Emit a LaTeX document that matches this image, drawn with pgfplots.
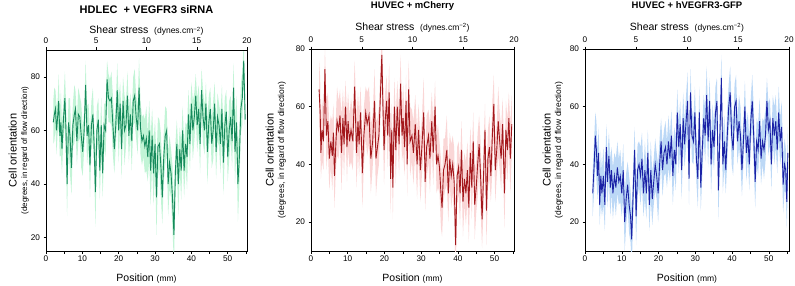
\documentclass[border=0pt]{standalone}
\usepackage{fontspec}
\setmainfont{Liberation Sans}
\usepackage{pgfplots}
\pgfplotsset{compat=1.18}
\usepackage{pgfplotstable}
\usepgfplotslibrary{fillbetween}

\definecolor{lineA}{HTML}{168A5C}
\definecolor{bandA}{HTML}{C2F4D6}
\definecolor{lineB}{HTML}{A3181C}
\definecolor{bandB}{HTML}{FAD6D6}
\definecolor{lineC}{HTML}{1B22A6}
\definecolor{bandC}{HTML}{BCD8F6}

\pgfplotstableread{
x m s
2.0 63 8
2.3 66 10
2.6 68 7
2.9 60 9
3.2 65 6
3.5 71 10
3.8 58 8
4.1 63 12
4.4 53 9
4.8 64 7
5.2 72 10
5.5 60 11
5.8 40 12
6.2 63 9
6.6 58 14
7.0 46 10
7.4 62 8
7.8 66 11
8.1 68 7
8.5 56 9
8.9 66 10
9.3 65 8
9.7 58 12
10.1 52 9
10.5 60 7
10.9 77 9
11.3 58 11
11.7 62 8
12.1 47 12
12.5 62 9
12.9 66 10
13.2 56 8
13.6 37 13
14.0 60 9
14.4 64 8
14.8 45 11
15.2 62 10
15.6 44 9
16.0 62 8
16.4 60 10
16.8 79 7
17.2 72 9
17.6 71 8
18.0 72 10
18.4 62 11
18.8 53 9
19.2 62 8
19.6 75 10
20.0 60 12
20.4 70 8
20.8 53 11
21.2 71 9
21.6 60 13
22.0 62 8
22.4 73 9
22.8 58 10
23.2 66 8
23.6 56 11
24.0 71 9
24.4 73 10
24.8 65 8
25.2 60 9
25.6 76 11
26.0 61 10
26.4 56 9
26.8 58 8
27.2 54 10
27.6 57 12
28.0 50 9
28.4 60 11
28.8 45 13
29.2 58 10
29.6 44 12
30.0 55 9
30.4 35 14
30.8 54 11
31.2 55 9
31.6 47 12
32.0 35 10
32.4 50 9
32.8 58 11
33.2 60 8
33.6 40 12
34.0 48 10
34.4 44 9
34.8 35 12
35.2 21 11
35.6 45 10
36.0 55 9
36.4 40 12
36.8 53 8
37.2 45 11
37.6 60 9
38.0 45 10
38.4 55 8
38.8 50 12
39.2 66 9
39.6 55 10
40.0 70 8
40.4 60 11
40.8 65 9
41.2 73 8
41.6 62 10
42.0 68 9
42.4 55 11
42.8 75 8
43.2 65 10
43.6 60 9
44.0 70 8
44.4 52 12
44.8 63 10
45.2 68 8
45.6 55 9
46.0 60 11
46.4 70 8
46.8 52 10
47.2 65 9
47.6 62 8
48.0 55 11
48.4 68 9
48.8 48 12
49.2 62 10
49.6 67 8
50.0 50 9
50.4 60 11
50.8 65 8
51.2 56 10
51.6 76 9
52.0 52 12
52.4 63 10
52.8 40 14
53.2 50 11
53.6 68 9
54.0 72 10
54.4 86 7
54.8 64 9
}\tA

\pgfplotstableread{
x m s
2.2 66 10
2.5 58 12
2.7 44 9
3.0 52 11
3.4 48 10
3.8 73 8
4.2 50 12
4.6 55 10
5.0 42 11
5.4 48 9
5.8 43 12
6.1 51 10
6.4 36 11
6.8 48 9
7.1 55 12
7.5 52 10
7.9 57 9
8.3 44 13
8.7 56 10
9.0 47 11
9.4 60 9
9.8 46 12
10.1 55 10
10.5 48 9
10.9 52 11
11.4 48 10
11.9 67 9
12.4 44 12
12.8 55 10
13.1 47 11
13.5 58 9
14.0 37 12
14.4 50 10
14.9 58 9
15.3 54 11
15.8 57 10
16.3 42 12
16.8 48 9
17.3 62 11
17.7 42 13
18.1 46 10
18.5 50 10
19.3 78 8
19.6 60 10
19.9 45 12
20.2 55 10
20.6 62 9
20.9 50 11
21.3 65 10
21.7 35 12
22.0 52 9
22.3 32 11
22.7 60 10
23.1 45 12
23.5 60 9
24.0 47 11
24.4 68 10
24.8 50 9
25.1 56 12
25.5 46 10
25.9 62 9
26.2 40 11
26.6 66 10
27.0 48 12
27.5 50 9
27.9 44 11
28.4 54 10
28.9 40 12
29.3 52 9
29.8 38 11
30.2 46 10
30.7 58 12
31.1 34 10
31.5 46 11
32.0 50 9
32.4 42 12
32.9 55 10
33.3 44 11
33.8 60 9
34.2 40 10
34.6 43 11
35.0 39 9
35.4 30 12
35.7 25 10
36.1 38 11
36.5 40 9
37.0 45 12
37.4 30 10
37.8 42 9
38.2 36 11
38.6 40 10
39.0 34 12
39.4 12 11
39.8 36 10
40.2 39 9
40.6 30 11
41.0 45 10
41.4 27 12
41.8 35 9
42.2 30 11
42.6 38 10
43.0 25 12
43.4 44 9
43.8 32 11
44.2 48 10
44.6 26 12
45.0 32 9
45.4 40 11
45.8 47 10
46.2 36 12
46.6 21 10
47.0 36 11
47.4 52 9
47.8 24 12
48.2 42 10
48.6 46 11
49.0 36 9
49.4 50 12
49.8 61 10
50.2 38 11
50.6 45 9
51.0 55 12
51.4 48 10
51.8 42 11
52.2 54 9
52.7 30 12
53.1 52 10
53.5 45 11
53.9 56 9
54.3 42 12
54.7 54 10
}\tB

\pgfplotstableread{
x m s
2.1 30 8
2.5 40 9
2.8 50 8
3.1 45 10
3.4 36 8
3.7 44 9
4.0 26 7
4.3 36 9
4.6 30 8
5.0 36 10
5.4 26 9
5.8 46 8
6.1 34 9
6.5 43 8
6.9 32 10
7.2 38 8
7.6 30 9
8.0 36 8
8.4 32 10
8.8 39 9
9.2 34 8
9.6 36 9
10.0 30 8
10.4 38 9
10.8 20 10
11.2 28 9
11.6 33 8
12.0 26 10
12.4 22 9
12.7 14 10
13.1 30 9
13.5 45 8
13.9 22 10
14.3 38 9
14.7 40 8
15.1 36 10
15.5 42 9
15.9 30 8
16.3 38 10
16.7 30 9
17.1 44 8
17.5 26 9
17.9 38 10
18.3 28 9
18.7 34 8
19.1 40 9
19.5 36 8
19.9 30 10
20.3 40 9
20.7 48 8
21.1 38 9
21.5 44 8
21.9 46 9
22.3 40 8
22.7 48 9
23.1 42 8
23.5 50 9
23.9 36 10
24.3 45 8
24.7 40 9
25.1 58 8
25.5 46 9
25.9 54 8
26.3 38 10
26.7 56 9
27.1 47 8
27.5 55 9
27.9 62 10
28.3 35 9
28.7 65 8
29.1 50 9
29.5 48 8
29.9 58 9
30.3 42 8
30.7 35 10
31.1 58 9
31.5 32 8
31.9 45 9
32.3 56 8
32.7 50 9
33.1 64 10
33.5 48 9
33.9 62 8
34.3 40 10
34.7 52 9
35.1 46 8
35.5 58 9
35.9 62 8
36.3 31 10
36.7 50 9
37.1 70 8
37.5 40 10
37.9 48 9
38.3 38 8
38.7 50 9
39.1 60 8
39.5 65 9
39.9 50 10
40.3 45 9
40.7 60 8
41.1 62 9
41.5 48 8
41.9 55 9
42.3 50 10
42.7 38 9
43.1 48 8
43.5 60 9
43.9 44 10
44.3 50 8
44.7 40 9
45.1 55 8
45.5 62 9
45.9 50 10
46.3 34 9
46.7 48 8
47.1 45 9
47.5 55 8
47.9 42 9
48.3 48 8
48.7 45 10
49.1 50 9
49.5 62 8
49.9 52 9
50.3 55 8
50.7 40 9
51.1 56 8
51.5 50 10
51.9 55 9
52.3 45 8
52.7 58 9
53.1 48 8
53.5 53 9
53.9 33 10
54.3 40 9
54.6 38 8
54.9 27 9
55.2 44 9
}\tC

\pgfplotsset{
  base/.style={
    scale only axis,
    xmin=0, xmax=55.3,
    xtick={0,10,...,50},
    minor xtick={5,15,...,55},
    xtick pos=bottom, ytick pos=left,
    tick align=outside,
    major tick length=2.5pt, minor tick length=2.5pt,
    every tick/.style={black, line width=0.5pt},
    axis line style={line width=0.6pt},
    tick label style={font=\fontsize{8.2}{9}\selectfont},
    /pgf/number format/assume math mode=true,
    xticklabel style={yshift=1pt},
    xlabel={\fontsize{10.5}{12}\selectfont Position \fontsize{8.5}{10}\selectfont(mm)},
    xlabel style={at={(axis description cs:0.5,0)}, anchor=north, inner sep=0pt, yshift=-23pt},
    ylabel style={align=center, inner sep=0pt, anchor=south},
    clip=true,
  },
  top/.style={
    scale only axis,
    xmin=0, xmax=20, ymin=0, ymax=1,
    axis x line*=top, hide y axis,
    xtick={0,5,...,20},
    tick align=outside,
    major tick length=2.5pt,
    every tick/.style={black, line width=0.5pt},
    axis line style={line width=0.6pt},
    tick label style={font=\fontsize{8.2}{9}\selectfont},
    /pgf/number format/assume math mode=true,
    xlabel={\fontsize{10.5}{12}\selectfont Shear stress\ \ \fontsize{8.5}{10}\selectfont(dynes.cm\textsuperscript{−2})},
    xlabel style={at={(axis description cs:0.5,1)}, anchor=base, inner sep=0pt},
    title style={at={(axis description cs:0.5,1)}, anchor=base, inner sep=0pt},
  },
}

\begin{document}
\begin{tikzpicture}

% ---------- Panel 1 ----------
\begin{axis}[base, at={(46pt,34pt)}, anchor=south west, width=201pt, height=201pt,
  ymin=15, ymax=90, ytick={20,40,60,80},
  ylabel={\fontsize{11}{12}\selectfont Cell orientation\\[-1.5pt]\fontsize{8}{9.5}\selectfont (degrees, in regard of flow direction)},
  ylabel style={at={(axis description cs:-0.085,0.5)}}]
  \addplot[draw=none, name path=upA, forget plot] table[x=x, y expr=\thisrow{m}+\thisrow{s}] {\tA};
  \addplot[draw=none, name path=loA, forget plot] table[x=x, y expr=\thisrow{m}-\thisrow{s}] {\tA};
  \addplot[bandA, draw=none] fill between[of=upA and loA];
  \addplot[lineA, line width=0.9pt] table[x=x, y=m] {\tA};
\end{axis}
\begin{axis}[top, at={(46pt,34pt)}, anchor=south west, width=201pt, height=201pt,
  xlabel style={yshift=16pt},
  title={\fontsize{11}{13}\selectfont\bfseries HDLEC\ \ + VEGFR3 siRNA},
  title style={yshift=30pt}]
\end{axis}

% ---------- Panel 2 ----------
\begin{axis}[base, at={(311pt,34pt)}, anchor=south west, width=203pt, height=202pt,
  ymin=10, ymax=80, ytick={20,40,60,80},
  ylabel={\fontsize{11}{12}\selectfont Cell orientation\\[-1.5pt]\fontsize{8.5}{9.5}\selectfont (degrees, in regard of flow direction)},
  ylabel style={at={(axis description cs:-0.123,0.5)}}]
  \addplot[draw=none, name path=upB, forget plot] table[x=x, y expr=\thisrow{m}+\thisrow{s}] {\tB};
  \addplot[draw=none, name path=loB, forget plot] table[x=x, y expr=\thisrow{m}-\thisrow{s}] {\tB};
  \addplot[bandB, draw=none] fill between[of=upB and loB];
  \addplot[lineB, line width=0.9pt] table[x=x, y=m] {\tB};
\end{axis}
\begin{axis}[top, at={(311pt,34pt)}, anchor=south west, width=203pt, height=202pt,
  xlabel style={yshift=19pt},
  title={\fontsize{9.5}{11}\selectfont\bfseries HUVEC + mCherry},
  title style={yshift=34.5pt}]
\end{axis}

% ---------- Panel 3 ----------
\begin{axis}[base, at={(585pt,34pt)}, anchor=south west, width=204pt, height=202pt,
  ymin=10, ymax=80, ytick={20,40,60,80}, xmax=55.5,
  ylabel={\fontsize{11}{12}\selectfont Cell orientation\\[-1.5pt]\fontsize{8.5}{9.5}\selectfont (degrees, in regard of flow direction)},
  ylabel style={at={(axis description cs:-0.108,0.5)}}]
  \addplot[draw=none, name path=upC, forget plot] table[x=x, y expr=\thisrow{m}+\thisrow{s}] {\tC};
  \addplot[draw=none, name path=loC, forget plot] table[x=x, y expr=\thisrow{m}-\thisrow{s}] {\tC};
  \addplot[bandC, draw=none] fill between[of=upC and loC];
  \addplot[lineC, line width=0.9pt] table[x=x, y=m] {\tC};
\end{axis}
\begin{axis}[top, at={(585pt,34pt)}, anchor=south west, width=204pt, height=202pt,
  xlabel style={yshift=19pt},
  title={\fontsize{9.5}{11}\selectfont\bfseries HUVEC + hVEGFR3-GFP},
  title style={yshift=34.5pt}]
\end{axis}

\pgfresetboundingbox
\useasboundingbox (0,0) rectangle (795pt,285pt);
\end{tikzpicture}
\end{document}
